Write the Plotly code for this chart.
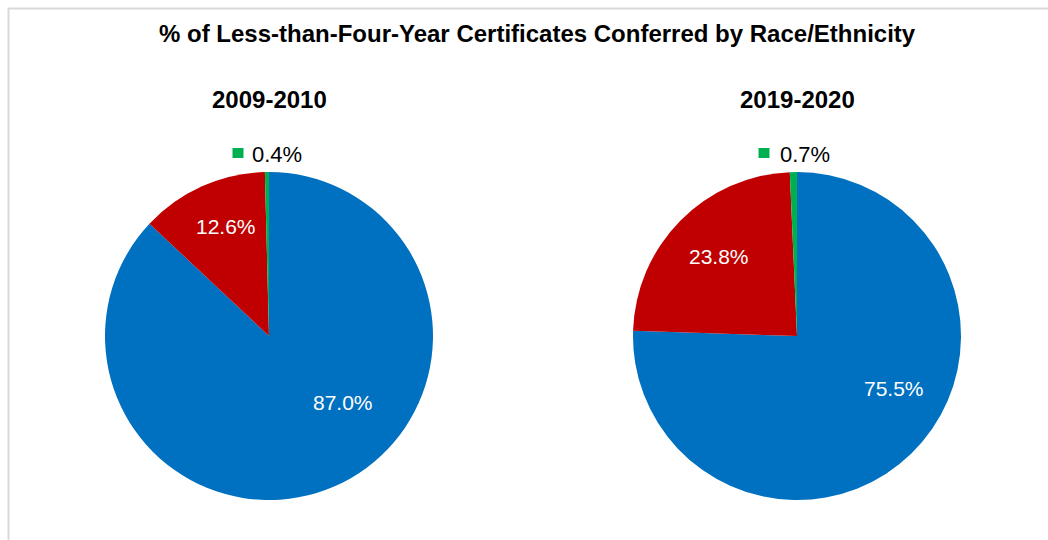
import plotly.graph_objects as go

W, H = 1048, 540

# Share of less-than-four-year certificates by race/ethnicity group
groups = ["White", "Black", "Other"]
years = ["2009-2010", "2019-2020"]
shares_2009 = [87.0, 12.6, 0.4]
shares_2019 = [75.5, 23.8, 0.7]
colors = ["#0070C0", "#C00000", "#00B050"]

title_text = "% of Less-than-Four-Year Certificates Conferred by Race/Ethnicity"

font_family = "Liberation Sans, Arial, sans-serif"


def px_x(x):
    return x / W


def px_y(y):
    return 1 - y / H


# pie placement in pixels: (centre x, centre y, radius)
pies = [(269, 336, 164), (797, 336, 164)]
# label offsets from each pie centre, in pixels, for the two large slices
label_offsets = [[(74, 66), (-43, -110)], [(97, 52), (-78, -79)]]
# small-slice callouts: (square x, text x, y)
callouts = [(238, 277, 155), (764, 805, 155)]

fig = go.Figure()
annotations = []
shapes = []

for i, (vals, (cx, cy, r)) in enumerate(zip([shares_2009, shares_2019], pies)):
    fig.add_trace(go.Pie(
        labels=groups,
        values=vals,
        sort=False,
        direction="clockwise",
        rotation=0,
        marker=dict(colors=colors, line=dict(width=0)),
        textinfo="none",
        hoverinfo="label+percent",
        showlegend=False,
        domain=dict(x=[px_x(cx - r), px_x(cx + r)], y=[px_y(cy + r), px_y(cy - r)]),
    ))
    # year heading
    annotations.append(dict(
        x=px_x(cx), y=px_y(99), xref="paper", yref="paper",
        text=f"<b>{years[i]}</b>", showarrow=False,
        font=dict(family=font_family, size=24, color="#000000"),
        xanchor="center", yanchor="middle",
    ))
    # in-slice labels
    for j, (dx, dy) in enumerate(label_offsets[i]):
        annotations.append(dict(
            x=px_x(cx + dx), y=px_y(cy + dy), xref="paper", yref="paper",
            text=f"{vals[j]:.1f}%", showarrow=False,
            font=dict(family=font_family, size=21, color="#FFFFFF"),
            xanchor="center", yanchor="middle",
        ))
    # callout for the smallest slice with its colour key
    sq_x, tx, ty = callouts[i]
    shapes.append(dict(
        type="rect", xref="paper", yref="paper",
        x0=px_x(sq_x - 5.5), x1=px_x(sq_x + 5.5), y0=px_y(ty + 3), y1=px_y(ty - 7),
        fillcolor=colors[2], line=dict(width=0),
    ))
    annotations.append(dict(
        x=px_x(tx), y=px_y(ty), xref="paper", yref="paper",
        text=f"{vals[2]:.1f}%", showarrow=False,
        font=dict(family=font_family, size=22, color="#000000"),
        xanchor="center", yanchor="middle",
    ))

# chart title
annotations.append(dict(
    x=px_x(537), y=px_y(33), xref="paper", yref="paper",
    text=f"<b>{title_text}</b>", showarrow=False,
    font=dict(family=font_family, size=24, color="#000000"),
    xanchor="center", yanchor="middle",
))

# chart-area border
shapes.append(dict(
    type="rect", xref="paper", yref="paper",
    x0=px_x(8.5), x1=px_x(W + 20), y0=px_y(H + 20), y1=px_y(8.5),
    line=dict(color="#D9D9D9", width=2), fillcolor="rgba(0,0,0,0)", layer="below",
))

fig.update_layout(
    width=W, height=H,
    margin=dict(l=0, r=0, t=0, b=0),
    paper_bgcolor="#FFFFFF",
    plot_bgcolor="#FFFFFF",
    annotations=annotations,
    shapes=shapes,
)

fig.write_html("out.html", config={"displayModeBar": False})
